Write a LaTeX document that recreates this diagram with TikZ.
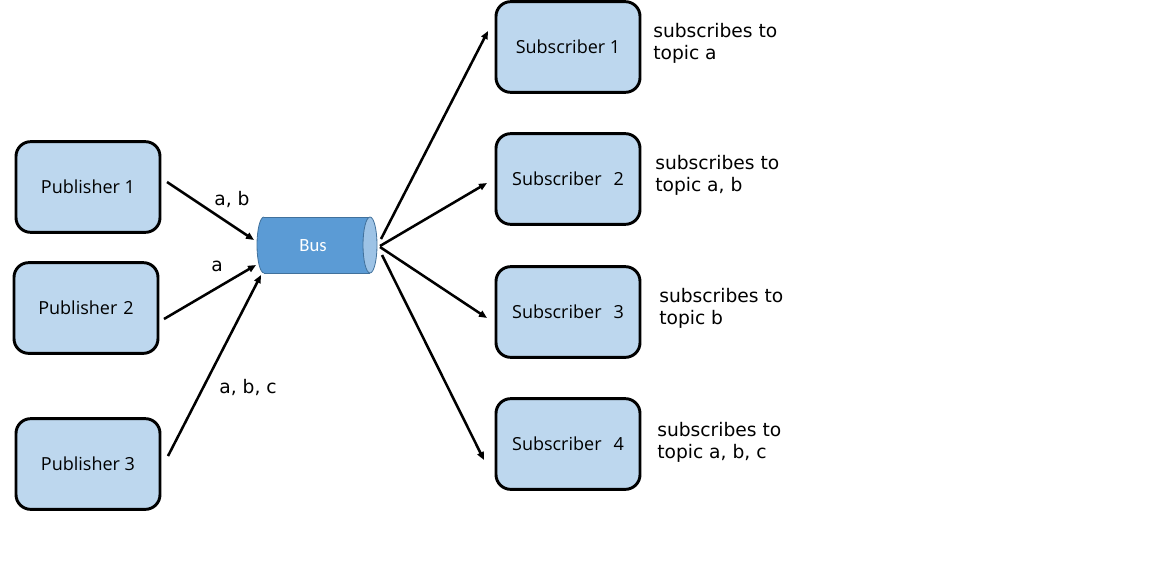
\documentclass[tikz,border=0pt]{standalone}
\usepackage{fontspec}
\setmainfont{DejaVu Sans}
\newfontfamily\boxfont{Open Sans}
\newfontfamily\busfont{Carlito}
\usetikzlibrary{arrows.meta}
\definecolor{boxfill}{HTML}{BDD7EE}
\definecolor{busfill}{HTML}{5B9BD5}
\definecolor{busend}{HTML}{9DC3E6}
\definecolor{busline}{HTML}{41719C}
\tikzset{
  agent/.style={draw=black, line width=2.2pt, fill=boxfill, rounded corners=11pt,
    minimum width=108pt, minimum height=68pt, inner sep=0pt,
    font=\boxfont\fontsize{13.5}{16}\selectfont},
  link/.style={line width=1.9pt, -{Triangle[length=6pt,width=5pt]}},
  lbl/.style={font=\fontsize{14}{16.5}\selectfont, inner sep=0pt},
  sublbl/.style={lbl, align=left, anchor=west},
  busshape/.style={draw=busline, line width=0.6pt}
}
\begin{document}
\begin{tikzpicture}[x=0.75pt,y=-0.75pt]
\useasboundingbox (0,0) rectangle (1151,565);
% publishers
\node[agent] (p1) at (88,187) {Publisher 1};
\node[agent] (p2) at (86,308) {Publisher\,\,2};
\node[agent] (p3) at (88,464) {Publisher 3};
% subscribers
\node[agent] (s1) at (568,47) {Subscriber 1};
\node[agent] (s2) at (568,179) {Subscriber\,\,\,\,2};
\node[agent] (s3) at (568,312) {Subscriber\,\,\,\,3};
\node[agent] (s4) at (568,444) {Subscriber\,\,\,\,4};
% bus cylinder
\fill[busfill] (264,217) -- (370,217) -- (370,273) -- (264,273)
  arc[start angle=270, end angle=90, x radius=5.25pt, y radius=21pt] -- cycle;
\draw[busshape] (264,217) -- (370,217);
\draw[busshape] (264,273) -- (370,273);
\draw[busshape] (264,273) arc[start angle=270, end angle=90, x radius=5.25pt, y radius=21pt];
\draw[busshape, fill=busend] (370,245) ellipse[x radius=5.25pt, y radius=21pt];
\node[text=white, font=\busfont\fontsize{14}{16}\selectfont] (bus) at (313,246) {Bus};
% anchor coordinates
\coordinate (p1o) at (167,182);
\coordinate (p2o) at (164,319);
\coordinate (p3o) at (168,456);
\coordinate (b1) at (254,240);
\coordinate (b2) at (256,265);
\coordinate (b3) at (261,275);
\coordinate (o1) at (381,239);
\coordinate (o2) at (380,246);
\coordinate (o3) at (380,247);
\coordinate (o4) at (382,255);
\coordinate (s1i) at (488,31);
\coordinate (s2i) at (487,183);
\coordinate (s3i) at (487,318);
\coordinate (s4i) at (484,460);
\draw[link] (p1o) -- (b1);
\draw[link] (p2o) -- (b2);
\draw[link] (p3o) -- (b3);
\draw[link] (o1) -- (s1i);
\draw[link] (o2) -- (s2i);
\draw[link] (o3) -- (s3i);
\draw[link] (o4) -- (s4i);
% labels
\node[lbl] (l1) at (232,199) {a, b};
\node[lbl] (l2) at (217,266) {a};
\node[lbl] (l3) at (248,387) {a, b, c};
\node[sublbl] (t1) at (653,43) {subscribes to\\topic a};
\node[sublbl] (t2) at (655,175) {subscribes to\\topic a, b};
\node[sublbl] (t3) at (659,308) {subscribes to\\topic b};
\node[sublbl] (t4) at (657,442) {subscribes to\\topic a, b, c};
\end{tikzpicture}
\end{document}
